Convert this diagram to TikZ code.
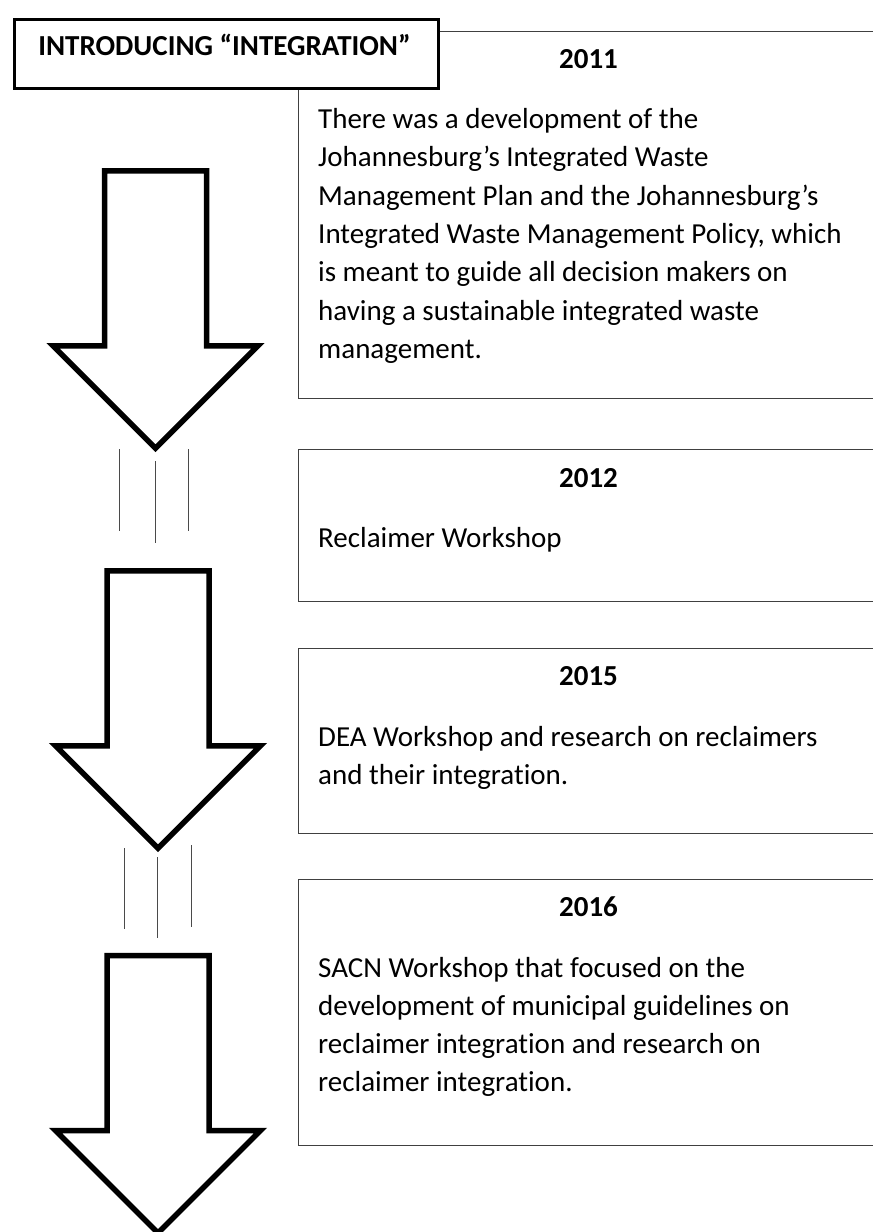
\documentclass[tikz,border=0pt]{standalone}
\usepackage{fontspec}
\setmainfont[Ligatures=NoCommon]{Carlito}
\definecolor{boxgray}{HTML}{404040}
\definecolor{linegray}{HTML}{4A4A4A}

% hollow block arrow pointing down: #1 = centre x, #2 = top y
\newcommand\flowarrow[2]{%
  \draw[arrowline] ({#1-51},{#2}) -- ({#1+51},{#2}) -- ({#1+51},{#2+175})
    -- ({#1+102.5},{#2+175}) -- ({#1},{#2+277.5}) -- ({#1-102.5},{#2+175})
    -- ({#1-51},{#2+175}) -- cycle;}

\begin{document}
\begin{tikzpicture}[x=1pt,y=-1pt,
  yearbox/.style={draw=boxgray, line width=1.3pt, minimum width=581pt,
    anchor=north west, inner sep=0pt},
  yeartext/.style={font=\fontsize{29}{38.3}\selectfont\bfseries,
    anchor=base, inner sep=0pt},
  bodytext/.style={font=\fontsize{29}{38.3}\selectfont, anchor=base west,
    inner sep=0pt, align=flush left, text width=560pt},
  titlebox/.style={draw=black, line width=3pt, fill=white, anchor=north west,
    minimum width=424pt, minimum height=69pt, inner sep=0pt},
  titletext/.style={font=\fontsize{29}{34}\selectfont\bfseries,
    anchor=base, inner sep=0pt},
  arrowline/.style={draw=black, line width=5.5pt, fill=white, miter limit=10},
  gapline/.style={draw=linegray, line width=1pt}]

\useasboundingbox (0,0) rectangle (873,1232);

% timeline boxes
\node[yearbox, minimum height=367pt] (b2011) at (298,31) {};
\node[yearbox, minimum height=152pt] (b2012) at (298,449) {};
\node[yearbox, minimum height=185pt] (b2015) at (298,648) {};
\node[yearbox, minimum height=266pt] (b2016) at (298,879) {};

% years
\node[yeartext] (y2011) at (588.5,68.5) {2011};
\node[yeartext] (y2012) at (588.5,487) {2012};
\node[yeartext] (y2015) at (588.5,685.5) {2015};
\node[yeartext] (y2016) at (588.5,916.5) {2016};

% descriptions
\node[bodytext] (t2011) at (318,128.5) {There was a development of the\\
  Johannesburg’s Integrated Waste\\
  Management Plan and the Johannesburg’s\\
  Integrated Waste Management Policy, which\\
  is meant to guide all decision makers on\\
  having a sustainable integrated waste\\
  management.};
\node[bodytext] (t2012) at (318,547) {Reclaimer Workshop};
\node[bodytext] (t2015) at (318,746.5) {DEA Workshop and research on reclaimers\\
  and their integration.};
\node[bodytext] (t2016) at (318,977) {SACN Workshop that focused on the\\
  development of municipal guidelines on\\
  reclaimer integration and research on\\
  reclaimer integration.};

% heading
\node[titlebox] (title) at (12.5,17.5) {};
\node[titletext] (titletxt) at (224.5,55) {INTRODUCING “INTEGRATION”};

% block arrows
\flowarrow{155.5}{170.8}
\flowarrow{158}{570.8}
\flowarrow{158}{955.5}

% short strokes between the arrows
\draw[gapline] (119,449) -- (119,531);
\draw[gapline] (155,461) -- (155,543);
\draw[gapline] (188,449) -- (188,531);
\draw[gapline] (124,848) -- (124,929);
\draw[gapline] (157,857) -- (157,938);
\draw[gapline] (191,845) -- (191,927);
\end{tikzpicture}
\end{document}
